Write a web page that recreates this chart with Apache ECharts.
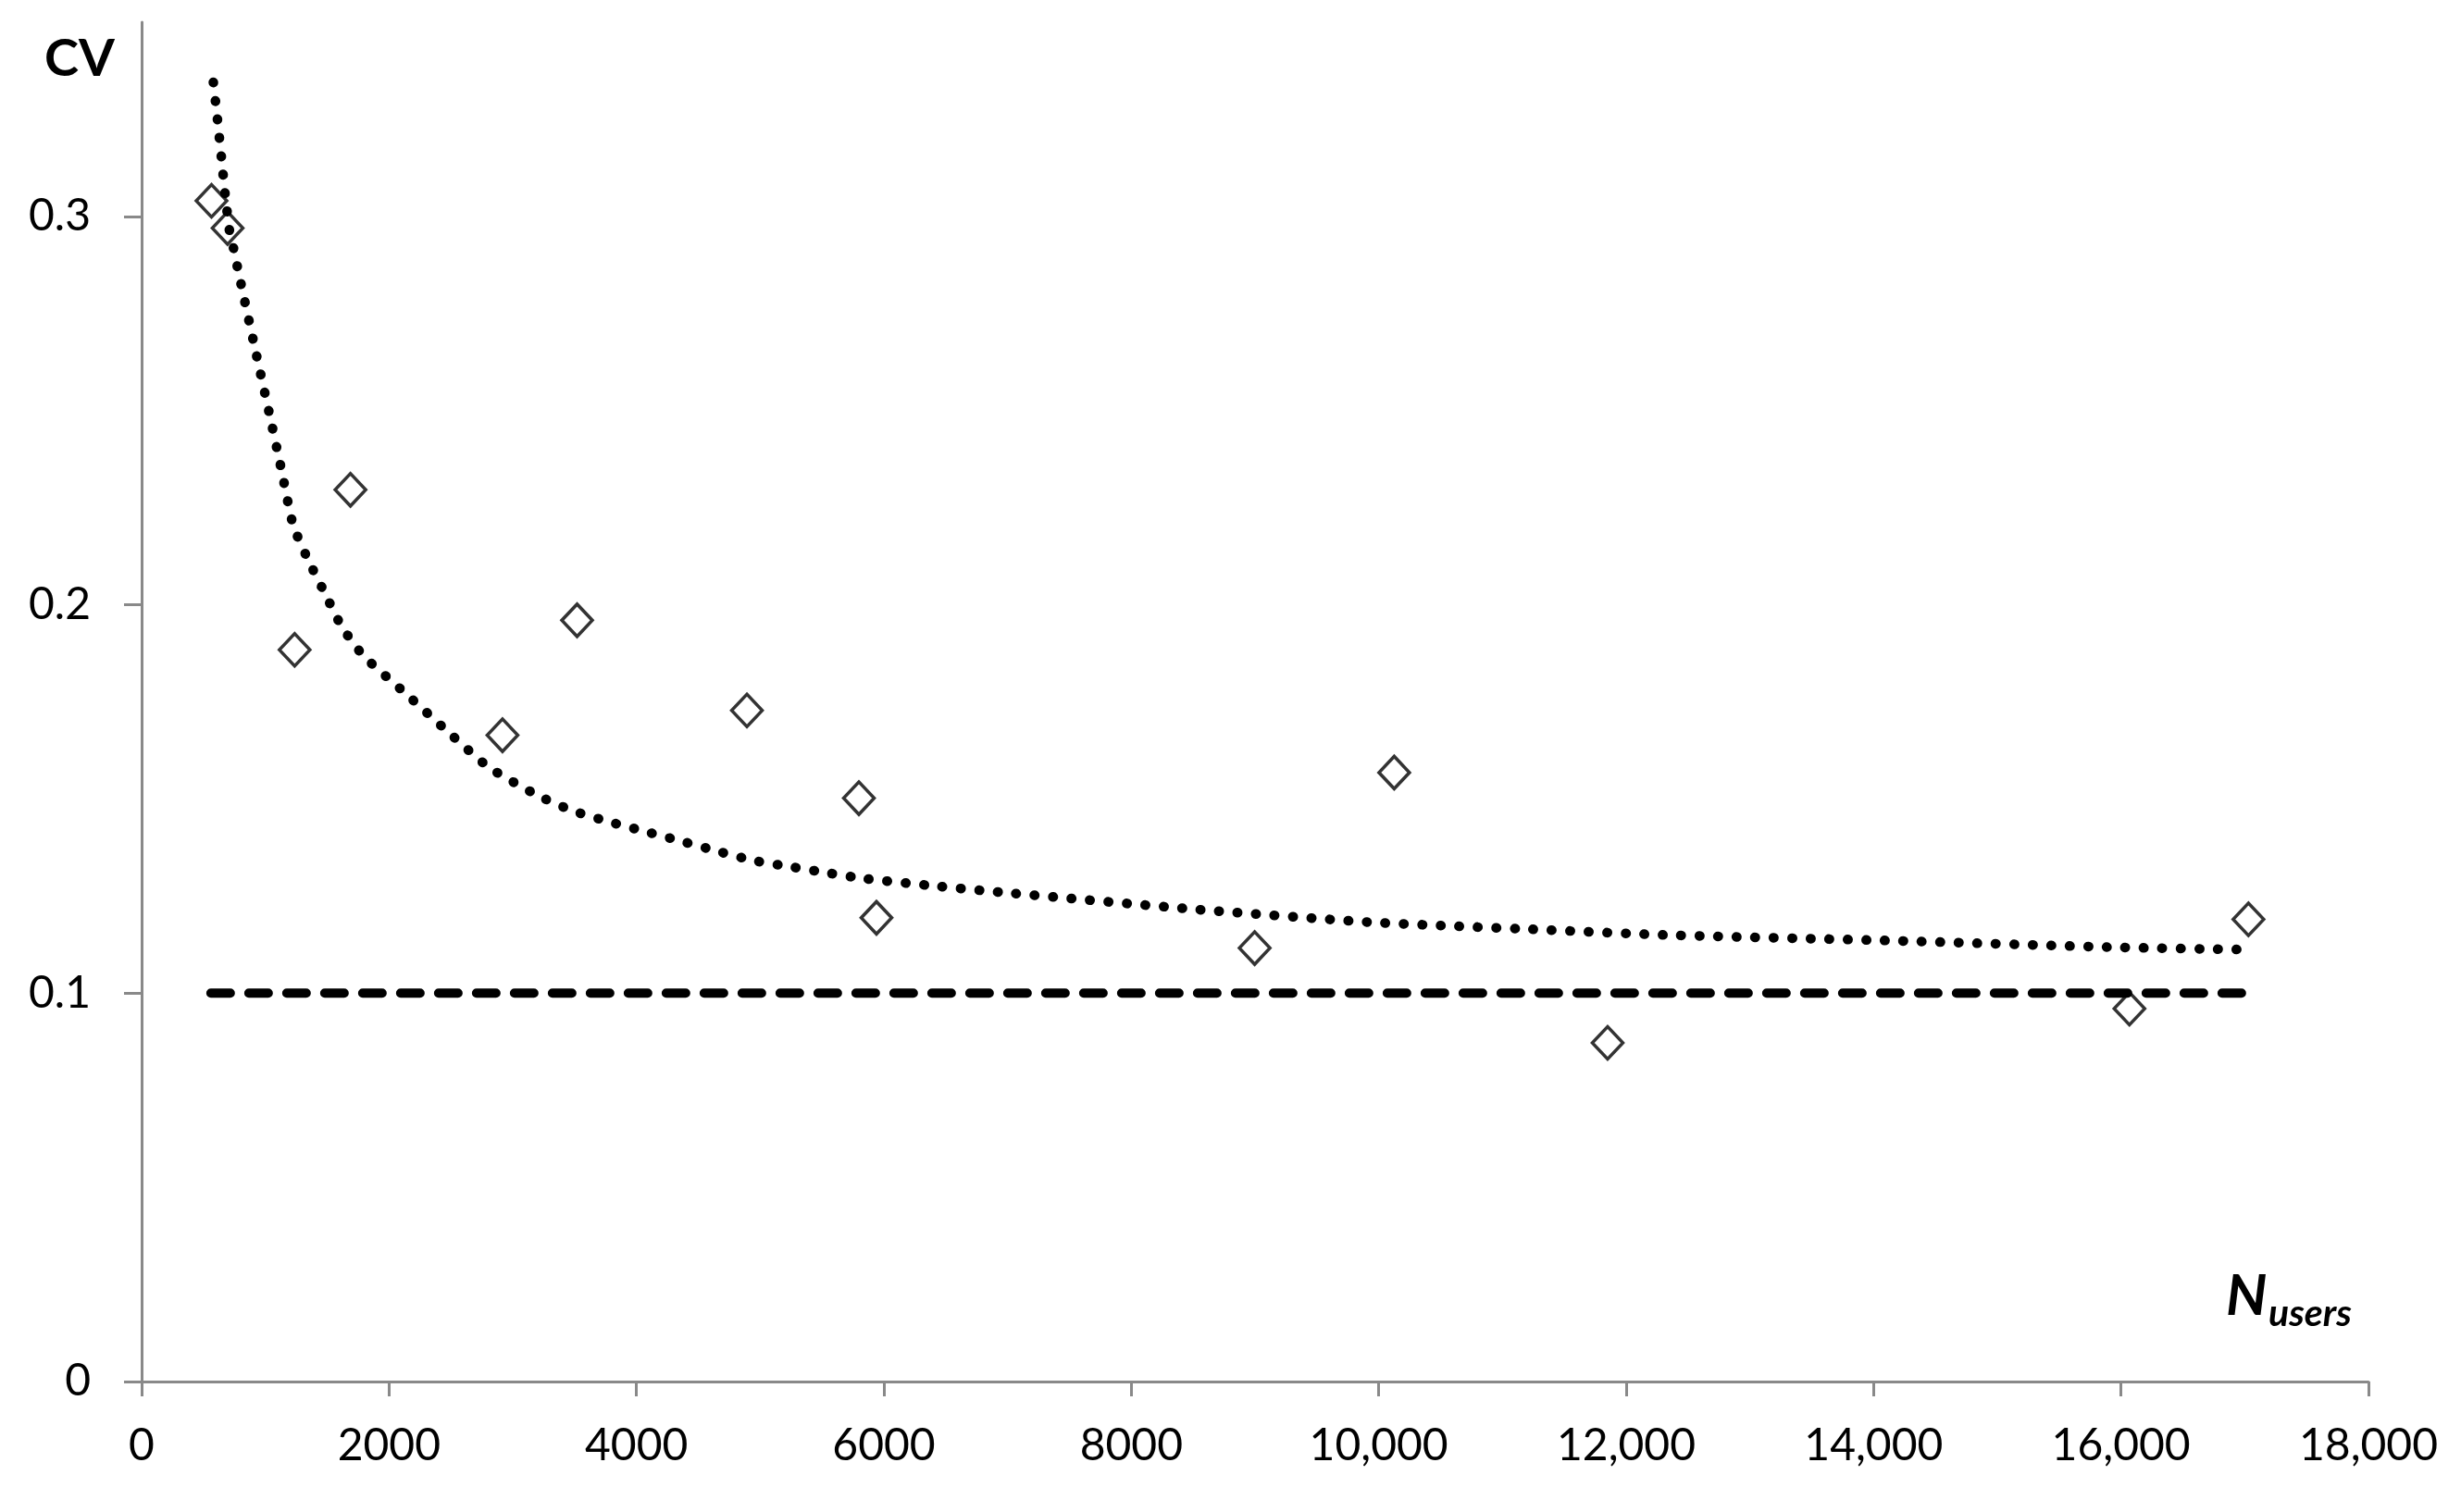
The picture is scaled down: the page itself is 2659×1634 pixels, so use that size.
<!DOCTYPE html>
<html>
<head>
<meta charset="utf-8">
<script src="https://cdn.jsdelivr.net/npm/echarts@6/dist/echarts.min.js"></script>
<style>
html,body{margin:0;padding:0;background:#fff;}
#chart{width:2659px;height:1634px;}
</style>
</head>
<body>
<div id="chart"></div>
<script>
// Observed data points (N users, CV)
const usersN = [565, 695, 1237, 1688, 2917, 3520, 4893, 5798, 5940, 8997, 10125, 11850, 16068, 17030];
const cvValues = [0.304, 0.297, 0.1884, 0.2296, 0.1664, 0.196, 0.1728, 0.1502, 0.1194, 0.1116, 0.1568, 0.0872, 0.096, 0.119];

// Dotted trend curve
const trendX = [580, 613, 645, 675, 711, 746, 776, 905, 1035, 1130, 1225, 1344, 1481, 1619, 1795, 2133, 2469, 2809, 3203, 3481, 3770, 4062, 4354, 4649, 4938, 5235, 5539, 5840, 6441, 7042, 8546, 9911, 10504, 11122, 12303, 14166, 15962, 17040];
const trendY = [0.3345, 0.325, 0.3152, 0.3057, 0.2962, 0.2914, 0.2867, 0.2677, 0.2489, 0.2348, 0.2205, 0.2117, 0.203, 0.1943, 0.1868, 0.1772, 0.1675, 0.1581, 0.1509, 0.147, 0.1442, 0.1417, 0.1392, 0.1366, 0.1342, 0.1326, 0.131, 0.1295, 0.1275, 0.1257, 0.1215, 0.1183, 0.1174, 0.1166, 0.115, 0.1135, 0.1118, 0.1112];

// Dashed reference line
const refX = [560, 17060];
const refY = [0.1, 0.1];

// Tick labels
const xTickValues = [0, 2000, 4000, 6000, 8000, 10000, 12000, 14000, 16000, 18000];
const xTickLabels = ['0', '2000', '4000', '6000', '8000', '10,000', '12,000', '14,000', '16,000', '18,000'];
const yTickValues = [0, 0.1, 0.2, 0.3];
const yTickLabels = ['0', '0.1', '0.2', '0.3'];

const FONT = 'Lato, "Open Sans", "Noto Sans", sans-serif';
const AXIS_COLOR = '#898989';

const zip = (a, b) => a.map((v, i) => [v, b[i]]);

const chart = echarts.init(document.getElementById('chart'), null, {renderer: 'canvas'});
chart.setOption({
  animation: false,
  backgroundColor: '#ffffff',
  grid: {left: 153, right: 100, top: 24, bottom: 141, containLabel: false},
  xAxis: {
    type: 'value', min: 0, max: 18000, interval: 2000,
    axisLine: {show: true, onZero: false, lineStyle: {color: AXIS_COLOR, width: 3}},
    axisTick: {show: true, inside: false, length: 16, lineStyle: {color: AXIS_COLOR, width: 3}},
    splitLine: {show: false},
    axisLabel: {
      margin: 46, color: '#000', fontFamily: FONT, fontSize: 48,
      formatter: v => { const i = xTickValues.indexOf(v); return i >= 0 ? xTickLabels[i] : ''; }
    }
  },
  yAxis: {
    type: 'value', min: 0, max: 0.35, interval: 0.1,
    axisLine: {show: true, onZero: false, lineStyle: {color: AXIS_COLOR, width: 3}},
    axisTick: {show: true, inside: false, length: 19, lineStyle: {color: AXIS_COLOR, width: 3}, customValues: yTickValues},
    splitLine: {show: false},
    axisLabel: {
      margin: 55, color: '#000', fontFamily: FONT, fontSize: 48,
      customValues: yTickValues,
      formatter: v => { const i = yTickValues.findIndex(t => Math.abs(t - v) < 1e-9); return i >= 0 ? yTickLabels[i] : ''; }
    }
  },
  graphic: [
    {type: 'text', left: 48, top: 36, style: {text: 'CV', fill: '#000', font: 'bold 56px ' + FONT}},
    {type: 'text', left: 2405, top: 1370, style: {text: 'N', fill: '#000', font: 'italic bold 62px ' + FONT}},
    {type: 'text', left: 2451, top: 1399, style: {text: 'users', fill: '#000', font: 'italic bold 41px ' + FONT}}
  ],
  series: [
    {
      name: 'reference', type: 'line', data: zip(refX, refY), symbol: 'none', z: 2,
      lineStyle: {color: '#000', width: 10, type: [21, 20], cap: 'round'}
    },
    {
      name: 'trend', type: 'line', data: zip(trendX, trendY), symbol: 'none', smooth: 0.2, z: 3,
      lineStyle: {color: '#000', width: 10.5, type: [0.5, 19.5], cap: 'round'}
    },
    {
      name: 'CV', type: 'scatter', data: zip(usersN, cvValues), symbol: 'diamond', symbolSize: [33, 35], z: 4,
      itemStyle: {color: 'rgba(0,0,0,0)', borderColor: '#000', borderWidth: 3.5}
    }
  ]
});
</script>
</body>
</html>
